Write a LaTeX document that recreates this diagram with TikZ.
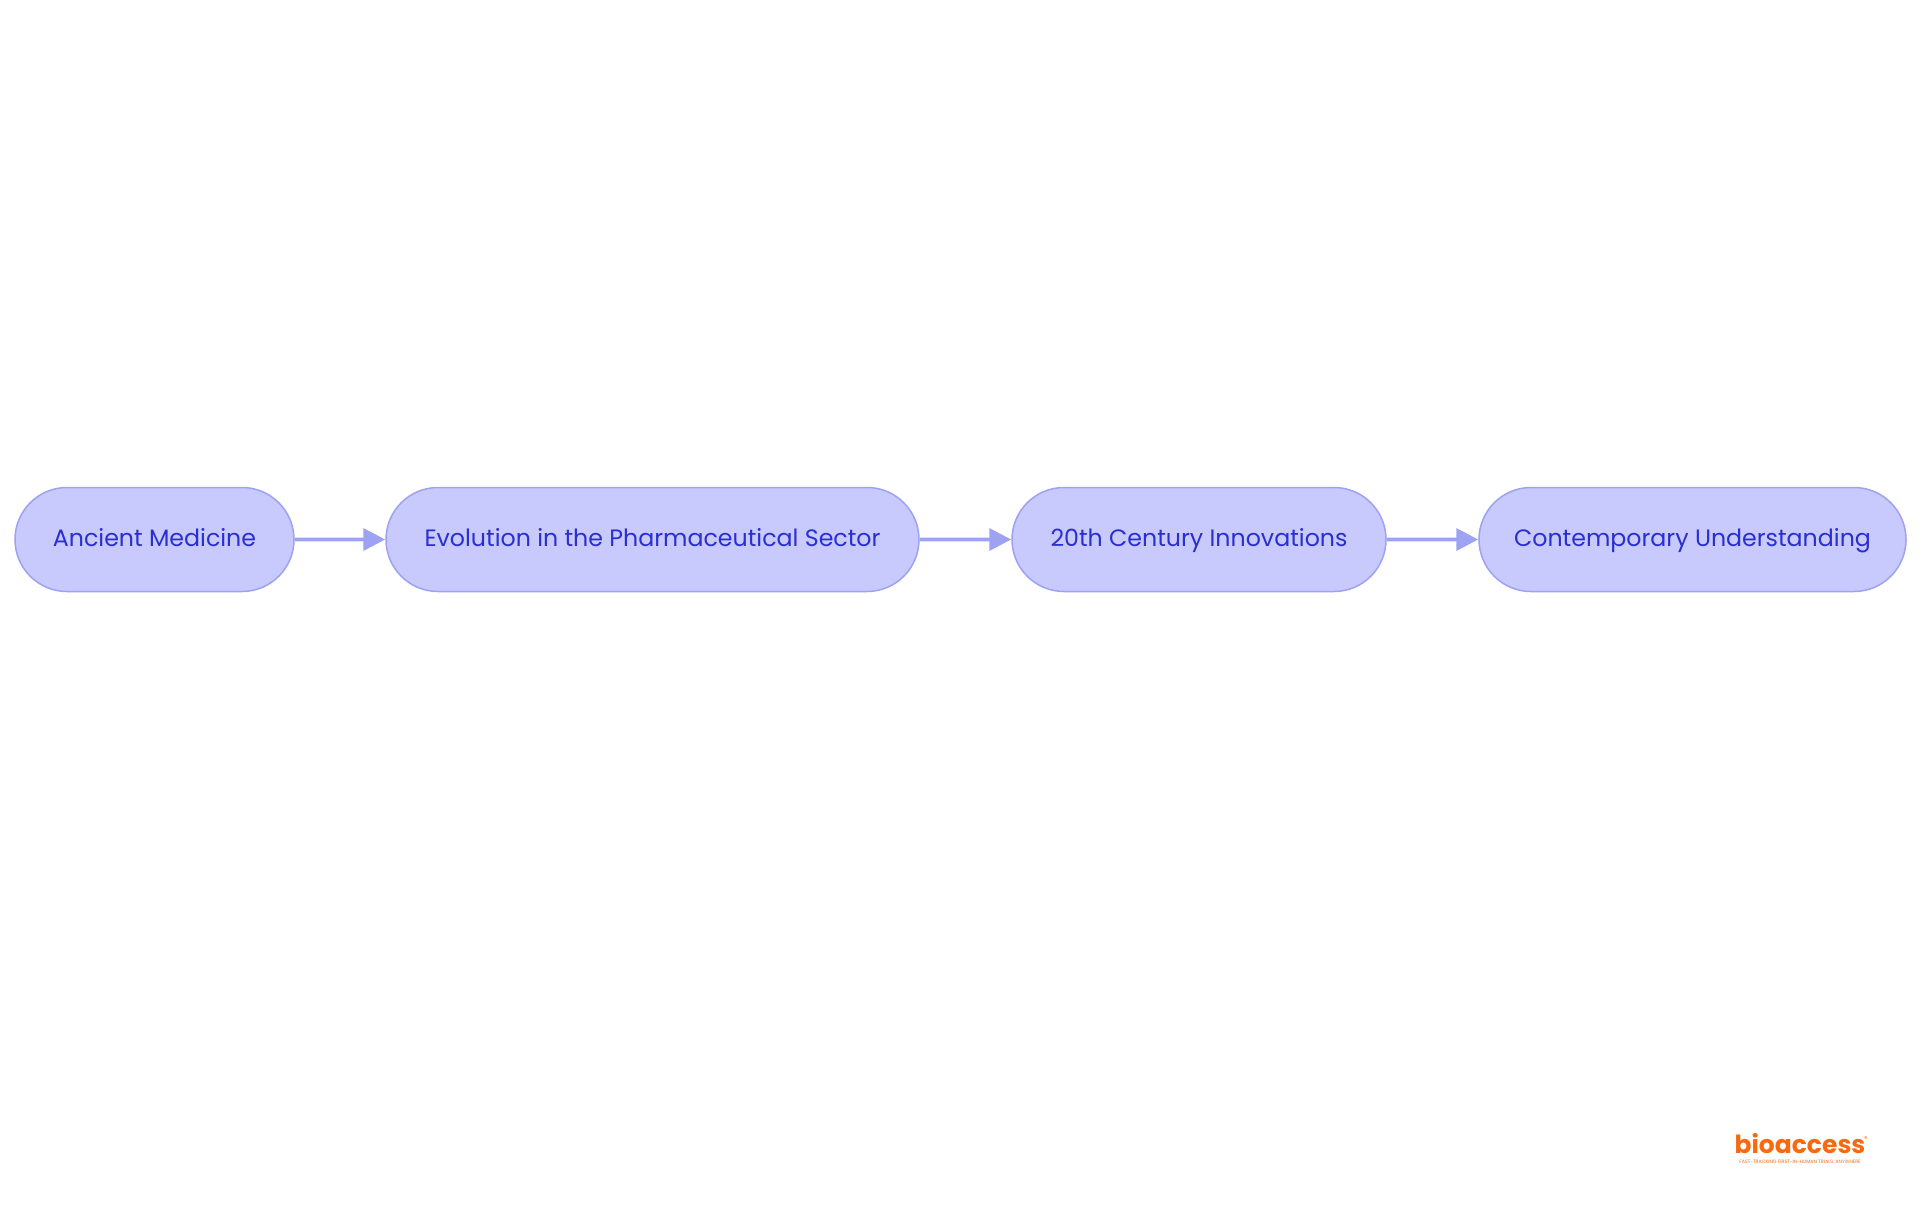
\documentclass[tikz,border=0pt]{standalone}
\usepackage{fontspec}
\setmainfont{Poppins}
\newfontfamily\logofont{Poppins}
\usetikzlibrary{arrows.meta,shapes.misc}
\definecolor{nodefill}{HTML}{C8C9FD}
\definecolor{nodeline}{HTML}{9DA2F2}
\definecolor{nodetext}{HTML}{2A2FD0}
\definecolor{logoorange}{HTML}{F96A10}
\tikzset{
  pill/.style={draw=nodeline,fill=nodefill,line width=1.5pt,rounded rectangle,rounded rectangle arc length=180,minimum height=104pt,
    text=nodetext,inner sep=0pt,text height=19pt,text depth=6pt,font=\fontsize{23.7}{30}\selectfont},
  flow/.style={draw=nodeline,line width=3.6pt,-{Triangle[length=22pt,width=22pt]}}
}
\begin{document}
\begin{tikzpicture}[x=1pt,y=-1pt]
\useasboundingbox (0,0) rectangle (1920,1215);
\fill[white] (0,0) rectangle (1920,1215);
\node[pill,minimum width=279pt] (a) at (154.5,539.5) {Ancient Medicine};
\node[pill,minimum width=533pt] (b) at (652.5,539.5) {Evolution in the Pharmaceutical Sector};
\node[pill,minimum width=374pt] (c) at (1199,539.5) {20th Century Innovations};
\node[pill,minimum width=427pt] (d) at (1692.5,539.5) {Contemporary Understanding};
\draw[flow] (a) -- (b);
\draw[flow] (b) -- (c);
\draw[flow] (c) -- (d);
\node[text=logoorange,inner sep=0pt,font=\logofont\bfseries\fontsize{25}{30}\selectfont] (logo) at (1800,1144) {bioaccess};
\node[text=logoorange,inner sep=0pt,font=\logofont\fontsize{4.8}{5.5}\selectfont] (tag) at (1800,1162.5) {FAST-TRACKING FIRST-IN-HUMAN TRIALS, ANYWHERE};
\node[text=logoorange,inner sep=0pt,font=\logofont\fontsize{7}{8}\selectfont] (reg) at (1866,1139) {®};
\end{tikzpicture}
\end{document}
